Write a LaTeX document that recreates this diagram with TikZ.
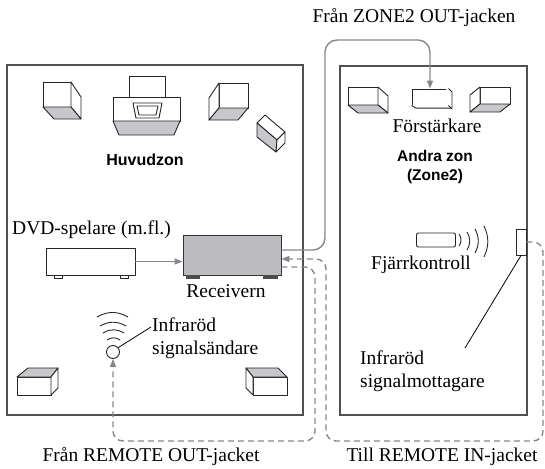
\documentclass[tikz,border=0pt]{standalone}
\usepackage{fontspec}
\setmainfont{Liberation Serif}
\setsansfont{Liberation Sans}
\usetikzlibrary{arrows.meta, positioning}
\definecolor{wallgray}{RGB}{80,80,80}
\definecolor{wiregray}{RGB}{135,135,135}
\definecolor{facegray}{RGB}{200,200,204}
\definecolor{rcvgray}{RGB}{188,188,192}
\tikzset{
  room/.style={draw=wallgray, line width=1.4pt},
  spk/.style={draw=black!85, line width=0.9pt, fill=white, line join=round},
  spkshade/.style={spk, fill=facegray},
  wave/.style={draw=black!85, line width=0.9pt},
  wire/.style={draw=wiregray, line width=1.4pt},
  dashwire/.style={wire, dash pattern=on 6pt off 4pt},
  lbl/.style={font=\fontsize{19.5}{23}\selectfont, inner sep=0pt},
  zonetext/.style={font=\sffamily\bfseries\fontsize{16}{19}\selectfont, align=center, inner sep=0pt}
}
\begin{document}
\begin{tikzpicture}[x=1pt, y=-1pt, >={Triangle[length=8pt,width=6pt]}]
  \useasboundingbox (0,0) rectangle (545,468);
  % rooms
  \draw[room] (7,65) rectangle (303,415);
  \draw[room] (340,66) rectangle (527,415);

  % main zone: speakers and TV
  \draw[spk] (43,82) rectangle (71,107);
  \draw[spk] (71,82) -- (81,97) -- (81,119) -- (71,107) -- cycle;
  \draw[spkshade] (43,107) -- (71,107) -- (81,119) -- (54,119) -- cycle;
  \draw[spk] (219,83) rectangle (248,108);
  \draw[spk] (219,83) -- (209,98) -- (209,120) -- (219,108) -- cycle;
  \draw[spkshade] (219,108) -- (248,108) -- (238,120) -- (209,120) -- cycle;
  \draw[spk] (129,76) rectangle (165,100);
  \draw[spk] (113,97) rectangle (180,121);
  \draw[spkshade] (113,121) -- (180,121) -- (174,135) -- (119,135) -- cycle;
  \draw[spk] (133,103) -- (162,103) -- (159,118) -- (136,118) -- cycle;
  \draw[spk] (137,106) -- (158,106) -- (156,115) -- (139,115) -- cycle;
  \draw[spk] (257,123) -- (265,115) -- (285,132) -- (277,140) -- cycle;
  \draw[spkshade] (257,123) -- (277,140) -- (276,152) -- (257,137) -- cycle;
  \draw[spk] (277,140) -- (285,132) -- (285,143) -- (276,152) -- cycle;
  \draw[spk] (17,377) rectangle (51,395);
  \draw[spkshade] (17,377) -- (28,368) -- (58,368) -- (51,377) -- cycle;
  \draw[spk] (51,377) -- (58,368) -- (58,388) -- (51,395) -- cycle;
  \draw[spk] (253,377) rectangle (287,395);
  \draw[spkshade] (253,377) -- (246,368) -- (278,368) -- (287,377) -- cycle;
  \draw[spk] (246,368) -- (253,377) -- (253,395) -- (246,388) -- cycle;
  \node[zonetext] (mainzone) at (145,160) {Huvudzon};

  % DVD player and receiver
  \node[spk, minimum width=89pt, minimum height=27pt, inner sep=0pt] (dvd) at (90.5,261.5) {};
  \draw[spk] (54,275) rectangle (62,278);
  \draw[spk] (120,275) rectangle (128,278);
  \node[lbl, anchor=west] (dvdlbl) at (12,230) {DVD-spelare (m.fl.)};
  \node[draw=black!80, line width=0.9pt, fill=rcvgray, minimum width=98pt, minimum height=40pt, inner sep=0pt] (rcv) at (232,255) {};
  \fill[black!70] (186,275) rectangle (200,278.5);
  \fill[black!70] (263,275) rectangle (278,278.5);
  \node[lbl] (rcvlbl) at (226,291) {Receivern};
  \draw[wire, ->] (dvd.east) -- (dvd.east -| rcv.west);
  \coordinate (rcvout) at ([yshift=5pt]rcv.east);
  \coordinate (rcvin) at ([yshift=-4pt]rcv.east);
  \coordinate (rcvir) at ([yshift=-12pt]rcv.east);

  % IR emitter
  \node[circle, draw=black!85, line width=0.9pt, fill=white, minimum size=13pt, inner sep=0pt] (emitter) at (113,352) {};
  \draw[wave] (97,317) to[bend left=30] (128,317);
  \draw[wave] (100,326) to[bend left=30] (126,326);
  \draw[wave] (103,333) to[bend left=32] (124,333);
  \draw[wave] (107,340) to[bend left=35] (120,340);
  \node[lbl, anchor=west, align=left] (irsend) at (152,338) {Infraröd\\signalsändare};
  \draw[black, line width=0.8pt] (emitter.40) -- (151,327);

  % second zone
  \draw[spk] (348,87) rectangle (378,105);
  \draw[spk] (378,87) -- (388,96) -- (388,113) -- (378,105) -- cycle;
  \draw[spkshade] (348,105) -- (378,105) -- (388,113) -- (358,113) -- cycle;
  \node[spk, minimum width=36pt, minimum height=16pt, inner sep=0pt] (amp) at (430,97) {};
  \draw[spk] (amp.north east) -- ++(3.5,3.5) -- ++(0,16) -- ++(-36,0) -- (amp.south west);
  \draw[spk] (amp.south east) -- ++(3.5,3.5);
  \draw[spk] (480,87) rectangle (510,104);
  \draw[spk] (480,87) -- (470,95) -- (470,112) -- (480,104) -- cycle;
  \draw[spkshade] (480,104) -- (510,104) -- (500,112) -- (470,112) -- cycle;
  \node[lbl] (amplbl) at (437,126) {Förstärkare};
  \node[zonetext, font=\sffamily\bfseries\fontsize{15.5}{19}\selectfont] (zone2) at (435,167) {Andra zon\\(Zone2)};

  % remote and IR receiver
  \node[spk, rounded corners=2pt, minimum width=39pt, minimum height=14pt, inner sep=0pt] (remote) at (436,240) {};
  \draw[wave] (459,234) to[bend left=35] (459,246);
  \draw[wave] (467,232) to[bend left=32] (467,250);
  \draw[wave] (475,229) to[bend left=28] (475,253);
  \draw[wave] (484,226) to[bend left=25] (484,257);
  \node[lbl] (remotelbl) at (421,265) {Fjärrkontroll};
  \node[spk, minimum width=10pt, minimum height=26pt, inner sep=0pt] (sensor) at (521,242) {};
  \node[lbl, anchor=west, align=left] (irrecv) at (360,371) {Infraröd\\signalmottagare};
  \coordinate (rxtip) at (465,348);
  \draw[black, line width=0.8pt] (sensor.south) -- (rxtip);

  % cables
  \draw[wire, ->, rounded corners=12pt] (rcvout) -| (325,40) -| (amp.north);
  \draw[dashwire, ->, rounded corners=10pt] (sensor.east) -| (543,441) -| (326,0 |- rcvin) -- (rcvin);
  \draw[dashwire, ->, rounded corners=10pt] (rcvir) -| (315,441) -| (emitter.south);
  \node[lbl] (zoneout) at (414,18) {Från ZONE2 OUT-jacken};
  \node[lbl] (remoteout) at (151,457) {Från REMOTE OUT-jacket};
  \node[lbl] (remotein) at (442,457) {Till REMOTE IN-jacket};
\end{tikzpicture}
\end{document}
